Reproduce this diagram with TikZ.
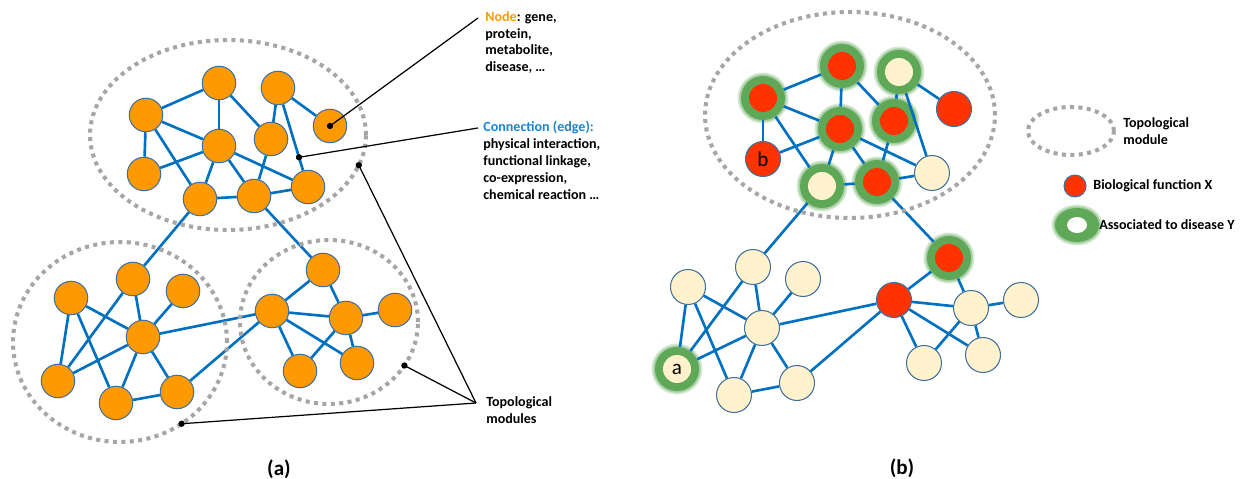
\documentclass[tikz,border=0pt]{standalone}
\usepackage{fontspec}
\setmainfont{Carlito}
\usetikzlibrary{shapes.geometric,calc}

\definecolor{geneorange}{HTML}{FF9900}
\definecolor{rimblue}{HTML}{41719C}
\definecolor{linkblue}{HTML}{0070C0}
\definecolor{connblue}{HTML}{1C84D4}
\definecolor{modgray}{HTML}{A6A6A6}
\definecolor{redfill}{HTML}{FF3300}
\definecolor{creamfill}{HTML}{FFF2CC}
\definecolor{halogreen}{HTML}{5EA858}

\begin{document}
\begin{tikzpicture}[x=0.02cm, y=-0.02cm,
        gene/.style={circle, draw=rimblue, line width=0.6pt, fill=geneorange, minimum size=0.67cm, inner sep=0pt},
        cream/.style={gene, fill=creamfill, minimum size=0.7cm},
        redfn/.style={gene, fill=redfill, minimum size=0.7cm},
        halo/.style={circle, fill=halogreen, minimum size=0.88cm, inner sep=0pt,
            preaction={draw=halogreen!25, line width=4pt},
            preaction={draw=halogreen!55, line width=2pt},
            path picture={\fill[#1] (path picture bounding box.center) circle (0.28cm);}},
        link/.style={draw=linkblue, line width=1.5pt},
        module/.style={ellipse, draw=modgray, line width=2.3pt, dash pattern=on 2.3pt off 2.5pt, inner sep=0pt, outer sep=0pt},
        pointer/.style={draw=black, line width=0.7pt},
        note/.style={font=\bfseries\fontsize{8}{9.6}\selectfont, align=left, inner sep=0pt, anchor=north west},
        caption/.style={font=\bfseries\fontsize{12}{14}\selectfont, inner sep=0pt}]

    \useasboundingbox (0,0) rectangle (1247,479);

    % (a) three modules of genes
    \node[gene] (la1) at (146,115) {};
    \node[gene] (la2) at (219,83) {};
    \node[gene] (la3) at (278,88) {};
    \node[gene] (la4) at (330,126) {};
    \node[gene] (la5) at (219,146) {};
    \node[gene] (la6) at (271,139) {};
    \node[gene] (la7) at (144,174) {};
    \node[gene] (la8) at (200,199) {};
    \node[gene] (la9) at (254,196) {};
    \node[gene] (la10) at (308,187) {};

    \node[gene] (lb1) at (71,298) {};
    \node[gene] (lb2) at (133,279) {};
    \node[gene] (lb3) at (183,291) {};
    \node[gene] (lb4) at (143,337) {};
    \node[gene] (lb5) at (58,381) {};
    \node[gene] (lb6) at (116,403) {};
    \node[gene] (lb7) at (177,392) {};

    \node[gene] (lc1) at (272,311) {};
    \node[gene] (lc2) at (323,270) {};
    \node[gene] (lc3) at (346,318) {};
    \node[gene] (lc4) at (395,310) {};
    \node[gene] (lc5) at (300,371) {};
    \node[gene] (lc6) at (357,363) {};

    % (b) same network, coloured by function and disease
    \node[halo=redfill] (ra1) at (763,98) {};
    \node[halo=redfill] (ra2) at (842,66) {};
    \node[halo=creamfill] (ra3) at (899,72) {};
    \node[redfn] (ra4) at (954,109) {};
    \node[halo=redfill] (ra5) at (840,129) {};
    \node[halo=redfill] (ra6) at (894,121) {};
    \node[redfn, font=\fontsize{12}{14}\selectfont] (ra7) at (763,159) {b};
    \node[halo=creamfill] (ra8) at (822,186) {};
    \node[halo=redfill] (ra9) at (877,182) {};
    \node[cream] (ra10) at (932,173) {};

    \node[cream] (rb1) at (688,287) {};
    \node[cream] (rb2) at (753,267) {};
    \node[cream] (rb3) at (803,279) {};
    \node[cream] (rb4) at (762,328) {};
    \node[halo=creamfill, font=\fontsize{12}{14}\selectfont] (rb5) at (677,369) {a};
    \node[cream] (rb6) at (734,395) {};
    \node[cream] (rb7) at (797,383) {};

    \node[redfn] (rc1) at (894,300) {};
    \node[halo=redfill] (rc2) at (949,258) {};
    \node[cream] (rc3) at (971,308) {};
    \node[cream] (rc4) at (1021,300) {};
    \node[cream] (rc5) at (924,363) {};
    \node[cream] (rc6) at (983,355) {};

    % connections, identical in both panels
    \foreach \p in {l,r}{
        \foreach \u/\v in {a1/a2, a1/a7, a1/a5, a1/a8, a2/a5, a2/a6, a3/a6, a3/a4, a3/a10,
                a5/a7, a5/a8, a5/a9, a5/a10, a6/a9, a8/a9, a9/a10, a8/b2, a9/c2,
                b1/b4, b1/b5, b1/b6, b2/b5, b2/b4, b3/b4, b4/b5, b4/b6, b4/b7, b6/b7,
                b4/c1, b7/c1, c1/c2, c2/c3, c1/c3, c3/c4, c1/c5, c1/c6, c3/c5, c3/c6}
            \draw[link] (\p\u) -- (\p\v);
    }

    % topological modules
    \node[module, minimum width=5.52cm, minimum height=3.8cm] (modA) at (228,135) {};
    \node[module, minimum width=4.28cm, minimum height=4cm] (modB) at (120,342) {};
    \node[module, minimum width=3.56cm, minimum height=3.28cm] (modC) at (329,322) {};
    \node[module, minimum width=5.8cm, minimum height=4.12cm] (modD) at (850,115) {};

    % annotations of panel (a)
    \node[note] (nodetxt) at (485,11) {\textcolor{geneorange}{Node}: gene,\\protein,\\metabolite,\\disease, …};
    \node[note] (conntxt) at (483,121) {\textcolor{connblue}{Connection (edge):}\\physical interaction,\\functional linkage,\\co-expression,\\chemical reaction …};
    \node[note] (modtxt) at (486,396) {Topological\\modules};

    \coordinate (nodetip) at (478,18);
    \coordinate (conntip) at (478,128);
    \coordinate (modtip) at (476,403);
    \coordinate (edgedot) at ($(la3)!0.7!(la10)$);

    \draw[pointer] (la4.center) -- (nodetip);
    \draw[pointer] (edgedot) -- (conntip);
    \draw[pointer] (modA.-13) -- (modtip);
    \draw[pointer] (modC.-30) -- (modtip);
    \draw[pointer] (modB.-53) -- (modtip);
    \foreach \d in {la4.center, edgedot, modA.-13, modC.-30, modB.-53}
        \fill (\d) circle (1.8pt);

    % legend of panel (b)
    \node[module, minimum width=1.72cm, minimum height=0.96cm] (legmod) at (1071,131) {};
    \node[note] (legmodtxt) at (1123,117) {Topological\\module};
    \node[redfn, minimum size=0.44cm] (legred) at (1075,186) {};
    \node[note, anchor=west] (legredtxt) at (1093,186) {Biological function X};
    \node[ellipse, fill=halogreen, minimum width=0.88cm, minimum height=0.68cm, inner sep=0pt,
        preaction={draw=halogreen!25, line width=4pt},
        preaction={draw=halogreen!55, line width=2pt},
        path picture={\fill[white] (path picture bounding box.center) ellipse (0.2cm and 0.16cm);}] (leghalo) at (1077,225) {};
    \node[note, anchor=west] (leghalotxt) at (1099,225) {Associated to disease Y};

    \node[caption] (capa) at (279,469) {(a)};
    \node[caption] (capb) at (902,468) {(b)};
\end{tikzpicture}
\end{document}
